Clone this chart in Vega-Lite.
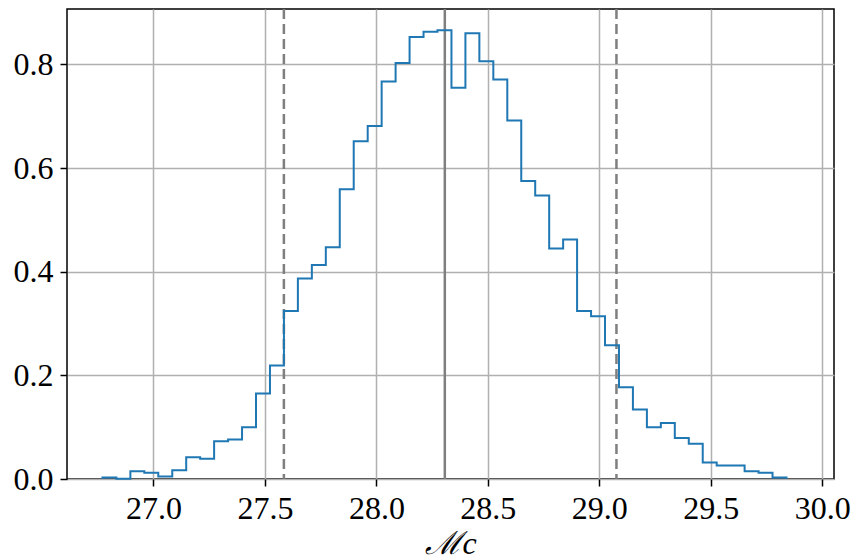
{
  "$schema": "https://vega.github.io/schema/vega-lite/v6.json",
  "autosize": {"type": "none"},
  "width": 767,
  "height": 470,
  "padding": {"left": 67, "top": 9, "right": 19, "bottom": 80},
  "background": "white",
  "config": {
    "view": {"stroke": "black", "strokeWidth": 1.5},
    "font": "Liberation Serif",
    "axis": {
      "grid": true,
      "gridColor": "#b0b0b0",
      "gridWidth": 1.5,
      "domain": false,
      "tickColor": "black",
      "tickWidth": 1.5,
      "tickSize": 7,
      "labelFont": "Liberation Serif",
      "labelFontSize": 32,
      "labelColor": "black",
      "titleFont": "Liberation Serif",
      "titleFontWeight": "normal",
      "titleColor": "black"
    }
  },
  "layer": [
    {
      "data": {"values": [{"x": 27.585}, {"x": 29.077}]},
      "mark": {"type": "rule", "color": "#7f7f7f", "strokeWidth": 2.5, "strokeDash": [10, 5]},
      "encoding": {
        "x": {
          "field": "x", "type": "quantitative",
          "scale": {"domain": [26.612, 30.053], "nice": false, "zero": false},
          "axis": {"values": [27.0, 27.5, 28.0, 28.5, 29.0, 29.5, 30.0], "format": ".1f", "title": "ℳc", "titleFontSize": 32, "titleFontStyle": "italic", "titlePadding": 4, "labelPadding": 7, "labelFlush": false}
        }
      }
    },
    {
      "data": {"values": [{"x": 28.307}]},
      "mark": {"type": "rule", "color": "#7f7f7f", "strokeWidth": 2.5},
      "encoding": {
        "x": {
          "field": "x", "type": "quantitative",
          "scale": {"domain": [26.612, 30.053], "nice": false, "zero": false},
          "axis": {"values": [27.0, 27.5, 28.0, 28.5, 29.0, 29.5, 30.0], "format": ".1f", "title": "ℳc", "titleFontSize": 32, "titleFontStyle": "italic", "titlePadding": 4, "labelPadding": 7, "labelFlush": false}
        }
      }
    },
    {
      "data": {"values": [
        {"i": 0, "edge": 26.7710, "density": 0},
        {"i": 1, "edge": 26.7710, "density": 0.003},
        {"i": 2, "edge": 26.8336, "density": 0.0005},
        {"i": 3, "edge": 26.8963, "density": 0.015},
        {"i": 4, "edge": 26.9589, "density": 0.012},
        {"i": 5, "edge": 27.0215, "density": 0.005},
        {"i": 6, "edge": 27.0842, "density": 0.017},
        {"i": 7, "edge": 27.1468, "density": 0.042},
        {"i": 8, "edge": 27.2094, "density": 0.039},
        {"i": 9, "edge": 27.2720, "density": 0.073},
        {"i": 10, "edge": 27.3347, "density": 0.076},
        {"i": 11, "edge": 27.3973, "density": 0.100},
        {"i": 12, "edge": 27.4599, "density": 0.165},
        {"i": 13, "edge": 27.5226, "density": 0.219},
        {"i": 14, "edge": 27.5852, "density": 0.324},
        {"i": 15, "edge": 27.6478, "density": 0.387},
        {"i": 16, "edge": 27.7105, "density": 0.413},
        {"i": 17, "edge": 27.7731, "density": 0.447},
        {"i": 18, "edge": 27.8357, "density": 0.559},
        {"i": 19, "edge": 27.8983, "density": 0.652},
        {"i": 20, "edge": 27.9610, "density": 0.681},
        {"i": 21, "edge": 28.0236, "density": 0.767},
        {"i": 22, "edge": 28.0862, "density": 0.803},
        {"i": 23, "edge": 28.1489, "density": 0.853},
        {"i": 24, "edge": 28.2115, "density": 0.863},
        {"i": 25, "edge": 28.2741, "density": 0.866},
        {"i": 26, "edge": 28.3368, "density": 0.755},
        {"i": 27, "edge": 28.3994, "density": 0.860},
        {"i": 28, "edge": 28.4620, "density": 0.806},
        {"i": 29, "edge": 28.5246, "density": 0.771},
        {"i": 30, "edge": 28.5873, "density": 0.692},
        {"i": 31, "edge": 28.6499, "density": 0.575},
        {"i": 32, "edge": 28.7125, "density": 0.547},
        {"i": 33, "edge": 28.7752, "density": 0.445},
        {"i": 34, "edge": 28.8378, "density": 0.462},
        {"i": 35, "edge": 28.9004, "density": 0.324},
        {"i": 36, "edge": 28.9631, "density": 0.314},
        {"i": 37, "edge": 29.0257, "density": 0.258},
        {"i": 38, "edge": 29.0883, "density": 0.177},
        {"i": 39, "edge": 29.1509, "density": 0.134},
        {"i": 40, "edge": 29.2136, "density": 0.100},
        {"i": 41, "edge": 29.2762, "density": 0.108},
        {"i": 42, "edge": 29.3388, "density": 0.079},
        {"i": 43, "edge": 29.4015, "density": 0.068},
        {"i": 44, "edge": 29.4641, "density": 0.032},
        {"i": 45, "edge": 29.5267, "density": 0.026},
        {"i": 46, "edge": 29.5894, "density": 0.026},
        {"i": 47, "edge": 29.6520, "density": 0.015},
        {"i": 48, "edge": 29.7146, "density": 0.012},
        {"i": 49, "edge": 29.7772, "density": 0.003},
        {"i": 50, "edge": 29.8399, "density": 0}
      ]},
      "mark": {"type": "line", "interpolate": "step-after", "color": "#1f77b4", "strokeWidth": 2},
      "encoding": {
        "x": {
          "field": "edge", "type": "quantitative",
          "scale": {"domain": [26.612, 30.053], "nice": false, "zero": false},
          "axis": {"values": [27.0, 27.5, 28.0, 28.5, 29.0, 29.5, 30.0], "format": ".1f", "title": "ℳc", "titleFontSize": 32, "titleFontStyle": "italic", "titlePadding": 4, "labelPadding": 7, "labelFlush": false}
        },
        "y": {
          "field": "density", "type": "quantitative",
          "scale": {"domain": [0, 0.907], "nice": false},
          "axis": {"values": [0, 0.2, 0.4, 0.6, 0.8], "format": ".1f", "title": null, "labelPadding": 7}
        },
        "order": {"field": "i", "type": "quantitative"}
      }
    }
  ]
}
